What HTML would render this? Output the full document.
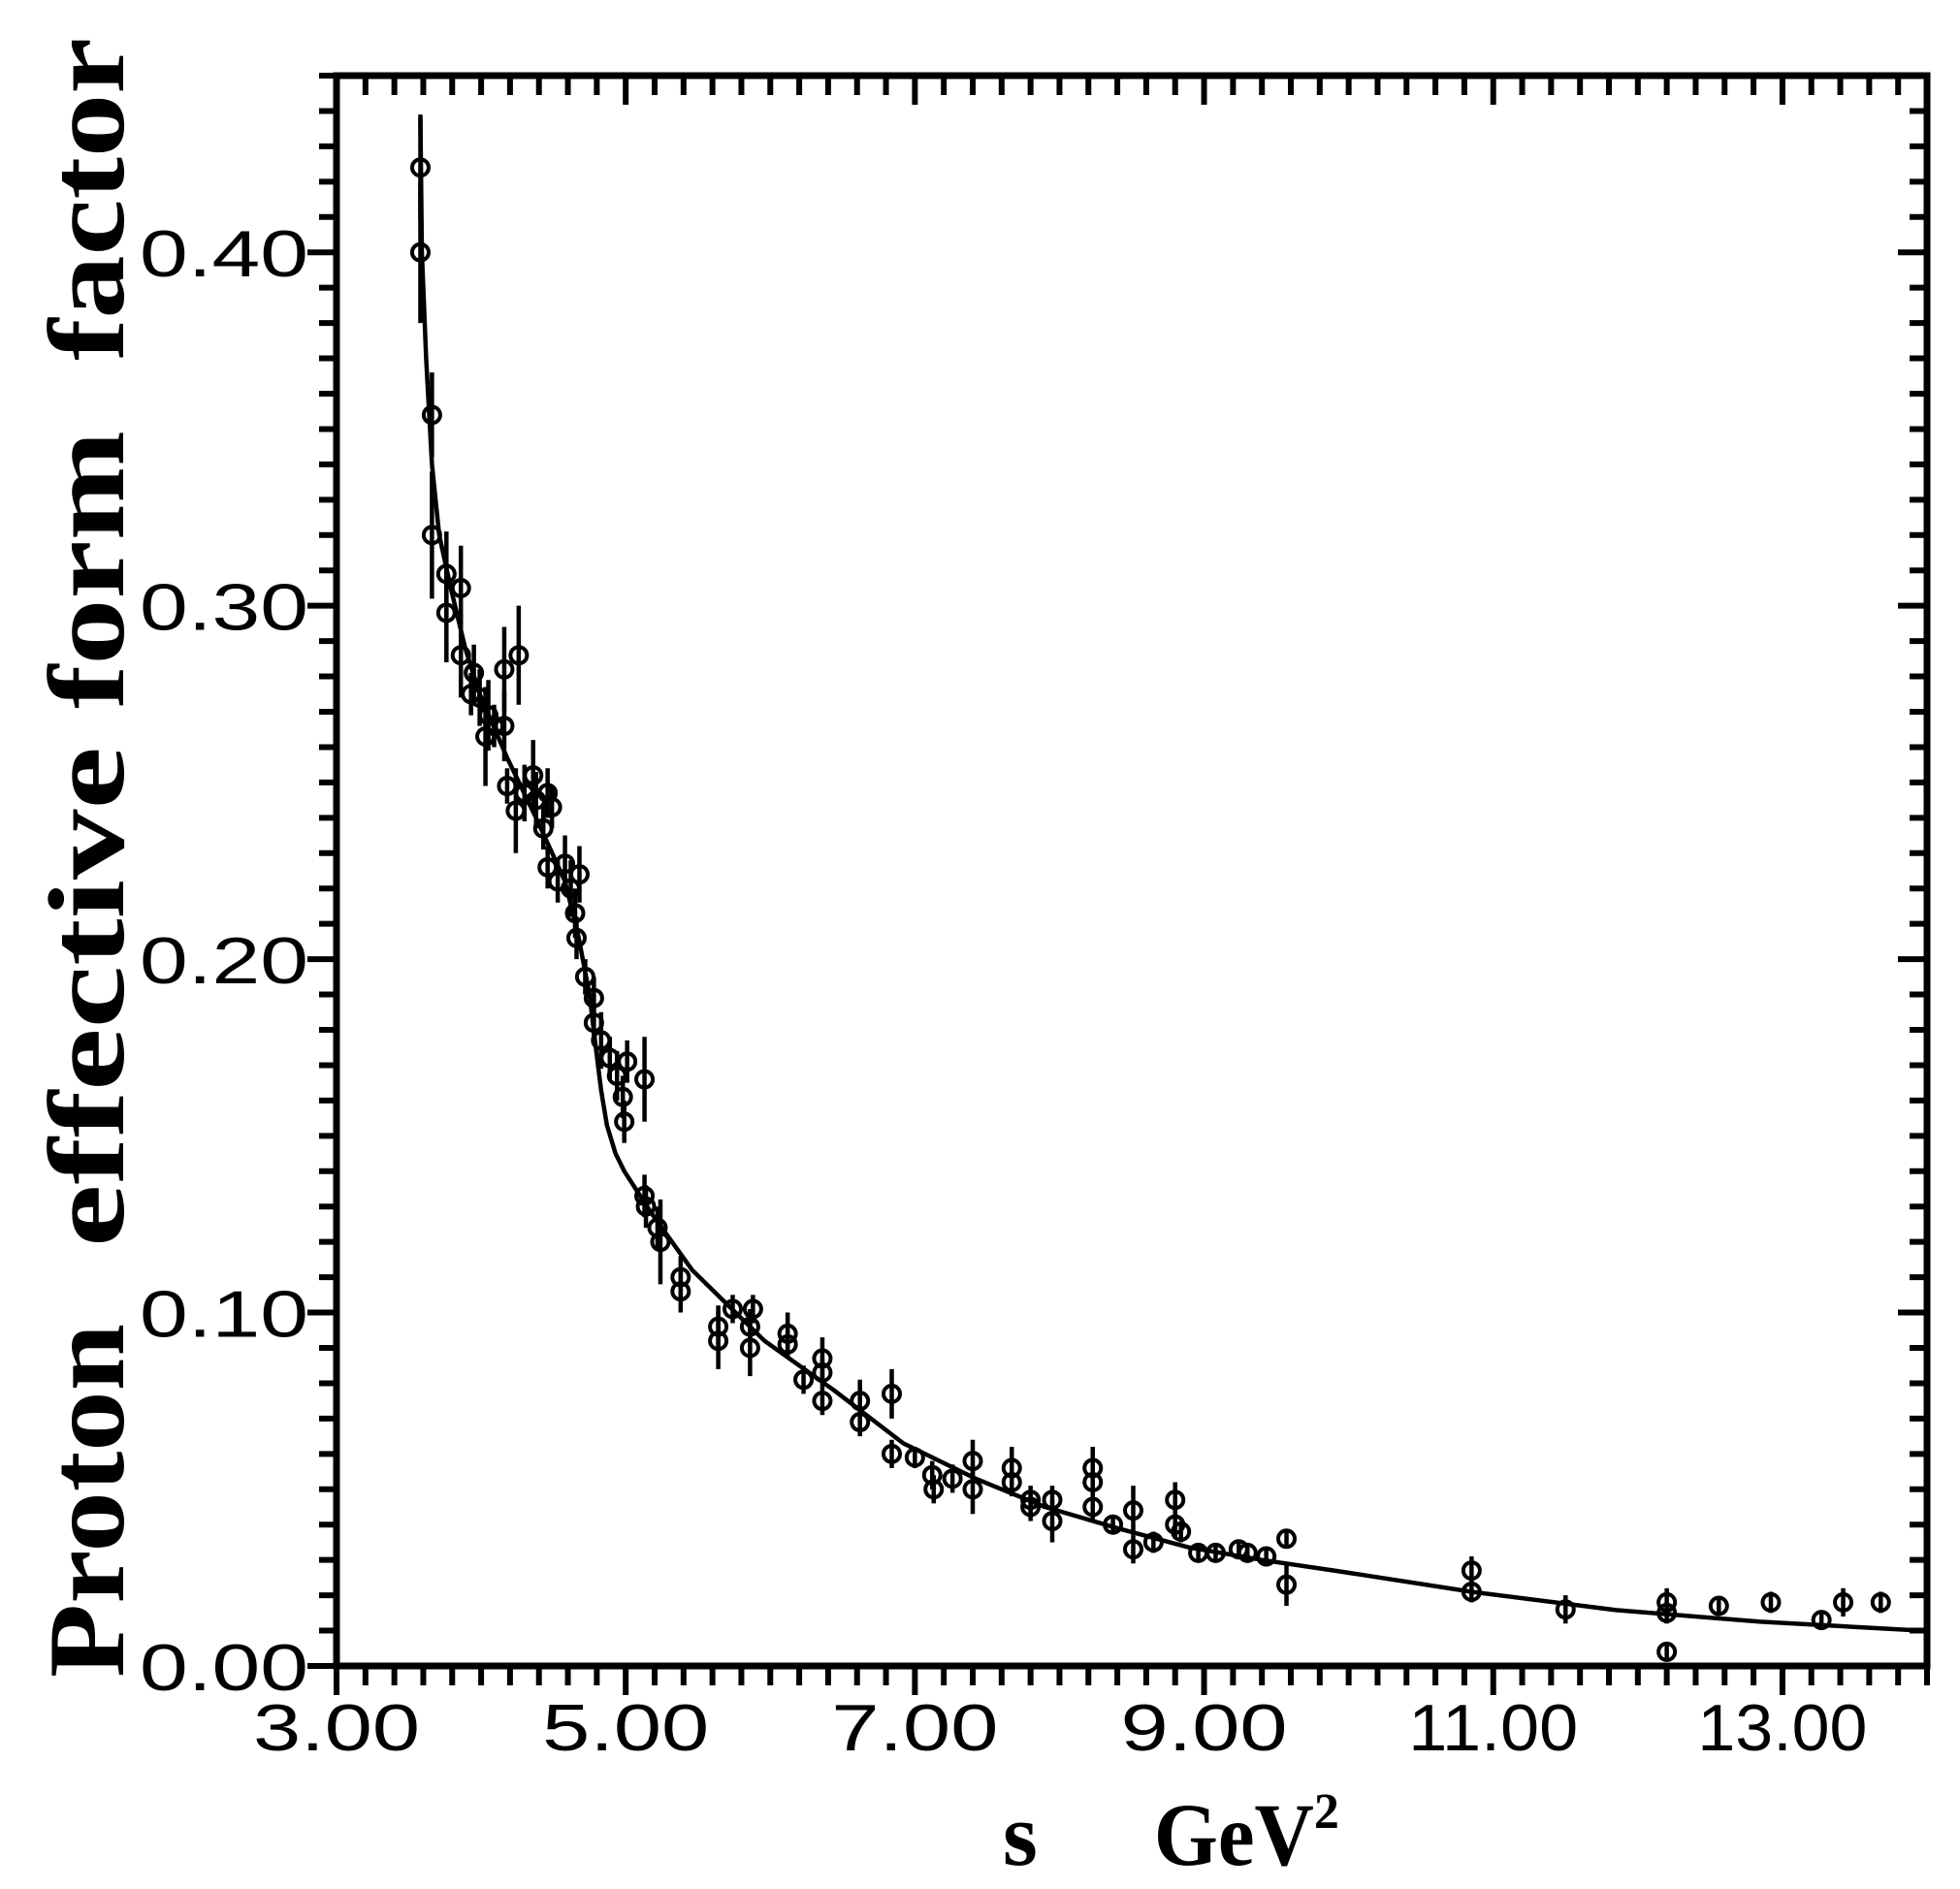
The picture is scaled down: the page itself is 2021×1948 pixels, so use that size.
<!DOCTYPE html>
<html><head><meta charset="utf-8"><style>
html,body{margin:0;padding:0;background:#fff;}
svg{display:block;}
</style></head><body>
<svg id="chart" width="2021" height="1948" viewBox="0 0 2021 1948" xmlns="http://www.w3.org/2000/svg">
<g id="ticks"></g>
<g id="labels" font-family="Liberation Sans, sans-serif" font-size="68" fill="#000"></g>
<g id="curve"></g>
<g id="points"></g>
<rect x="347" y="78" width="1640" height="1640" fill="none" stroke="#000" stroke-width="7"/>
<g font-family="Liberation Serif, serif" font-weight="bold" font-size="112">
<text transform="translate(127,1730) rotate(-90)" textLength="365" lengthAdjust="spacingAndGlyphs">Proton</text>
<text transform="translate(127,1286) rotate(-90)" textLength="516" lengthAdjust="spacingAndGlyphs">effective</text>
<text transform="translate(127,731) rotate(-90)" textLength="287" lengthAdjust="spacingAndGlyphs">form</text>
<text transform="translate(127,372) rotate(-90)" textLength="333" lengthAdjust="spacingAndGlyphs">factor</text>
</g>
<text x="1034" y="1923" font-family="Liberation Serif, serif" font-weight="bold" font-size="92" xml:space="preserve">s<tspan dx="120" textLength="165" lengthAdjust="spacingAndGlyphs">GeV</tspan><tspan dy="-38" font-size="52">2</tspan></text>
</svg>
<script>
const xTickLabels = ["3.00","5.00","7.00","9.00","11.00","13.00"];
const yTickLabels = ["0.00","0.10","0.20","0.30","0.40"];
const sVals = [3.58,3.58,3.66,3.66,3.76,3.76,3.86,3.86,3.95,3.93,3.99,4.05,4.03,4.09,4.16,4.16,4.18,4.26,4.24,4.30,4.36,4.38,4.43,4.46,4.49,4.46,4.53,4.58,4.62,4.65,4.66,4.68,4.72,4.78,4.78,4.83,4.89,4.94,4.98,5.01,4.99,5.13,5.13,5.14,5.22,5.24,5.38,5.38,5.64,5.64,5.74,5.88,5.86,5.86,6.12,6.12,6.23,6.36,6.36,6.36,6.62,6.62,6.84,6.84,7.00,7.12,7.13,7.26,7.40,7.40,7.67,7.67,7.80,7.80,7.95,7.95,8.23,8.23,8.23,8.37,8.51,8.51,8.65,8.80,8.80,8.84,8.96,9.08,9.24,9.30,9.43,9.57,9.57,10.85,10.85,11.50,12.20,12.20,12.20,12.56,12.92,13.27,13.42,13.68];
const gVals = [0.424,0.400,0.354,0.320,0.309,0.298,0.305,0.286,0.281,0.275,0.274,0.269,0.263,0.266,0.282,0.266,0.249,0.286,0.242,0.247,0.252,0.245,0.237,0.247,0.243,0.226,0.222,0.227,0.220,0.213,0.206,0.224,0.195,0.189,0.182,0.177,0.172,0.167,0.161,0.171,0.154,0.166,0.133,0.130,0.124,0.120,0.110,0.106,0.096,0.092,0.101,0.101,0.096,0.090,0.094,0.091,0.081,0.087,0.083,0.075,0.075,0.069,0.077,0.060,0.059,0.054,0.050,0.053,0.058,0.050,0.056,0.052,0.047,0.045,0.047,0.041,0.056,0.052,0.045,0.040,0.044,0.033,0.035,0.047,0.040,0.038,0.032,0.032,0.033,0.032,0.031,0.036,0.023,0.027,0.021,0.016,0.018,0.015,0.004,0.017,0.018,0.013,0.018,0.018];
const gErr = [0.015,0.02,0.012,0.018,0.012,0.014,0.012,0.012,0.008,0.006,0.008,0.01,0.014,0.006,0.012,0.01,0.005,0.014,0.012,0.008,0.01,0.008,0.006,0.007,0.006,0.006,0.006,0.008,0.008,0.007,0.006,0.008,0.005,0.006,0.006,0.008,0.006,0.007,0.006,0.006,0.006,0.012,0.006,0.006,0.006,0.012,0.006,0.006,0.006,0.008,0.004,0.004,0.005,0.008,0.006,0.004,0.004,0.006,0.004,0.004,0.006,0.004,0.007,0.004,0.003,0.004,0.004,0.004,0.006,0.007,0.006,0.004,0.004,0.004,0.004,0.006,0.006,0.004,0.004,0.002,0.007,0.004,0.003,0.005,0.004,0.003,0.002,0.002,0.002,0.002,0.002,0.002,0.006,0.004,0.003,0.004,0.004,0.003,0.002,0.002,0.003,0.002,0.004,0.003];
const fitS = [3.58,3.59,3.62,3.66,3.71,3.79,3.89,3.99,4.18,4.38,4.58,4.67,4.75,4.79,4.83,4.87,4.93,4.99,5.18,5.46,5.76,5.96,6.44,6.92,7.42,7.90,8.40,8.90,9.40,9.90,10.85,11.85,12.85,14.0];
const fitG = [0.438,0.40,0.37,0.34,0.32,0.305,0.288,0.275,0.257,0.240,0.222,0.207,0.190,0.176,0.163,0.153,0.145,0.140,0.128,0.112,0.100,0.092,0.078,0.063,0.053,0.045,0.039,0.0335,0.030,0.027,0.021,0.0158,0.0125,0.0099];

const NS = "http://www.w3.org/2000/svg";
const X0 = 347, X1 = 1987, Y0 = 1718, Y1 = 78;
const xMin = 3, xMax = 14, yMin = 0, yMax = 0.45;
const sx = v => X0 + (v - xMin) / (xMax - xMin) * (X1 - X0);
const sy = v => Y0 - (v - yMin) / (yMax - yMin) * (Y0 - Y1);
function mk(tag, attrs, parent) {
  const e = document.createElementNS(NS, tag);
  for (const k in attrs) e.setAttribute(k, attrs[k]);
  parent.appendChild(e);
  return e;
}
const tg = document.getElementById('ticks');
const lg = document.getElementById('labels');
for (let i = 0; i <= 55; i++) {
  const v = 3 + i * 0.2;
  if (v > 14.001) break;
  const x = sx(v);
  const major = (i % 10 === 0);
  const b = mk('line', {x1: x, x2: x, y1: Y0, y2: Y0 + (major ? 30 : 20), stroke: '#000', 'stroke-width': 6}, tg);
  
  
  const t = mk('line', {x1: x, x2: x, y1: Y1, y2: Y1 + (major ? 30 : 20), stroke: '#000', 'stroke-width': 6}, tg);
  
  
}
xTickLabels.forEach(s => {
  const v = parseFloat(s);
  const t = mk('text', {x: sx(v), y: 1805, 'text-anchor': 'middle', textLength: s.length > 4 ? 175 : 172, lengthAdjust: 'spacingAndGlyphs'}, lg);
  t.textContent = s;
  
  
});
for (let i = 0; i <= 45; i++) {
  const v = i * 0.01;
  const y = sy(v);
  const major = (i % 10 === 0);
  const l = mk('line', {x1: X0 - (major ? 30 : 18), x2: X0, y1: y, y2: y, stroke: '#000', 'stroke-width': 6}, tg);
  
  
  const r = mk('line', {x1: X1 - (major ? 30 : 18), x2: X1, y1: y, y2: y, stroke: '#000', 'stroke-width': 6}, tg);
  
  
}
yTickLabels.forEach(s => {
  const v = parseFloat(s);
  const t = mk('text', {x: 144, y: sy(v) + 25, textLength: 174, lengthAdjust: 'spacingAndGlyphs'}, lg);
  t.textContent = s;
  
  
});
const cg = document.getElementById('curve');
let d = '';
fitS.forEach((s, i) => { d += (i ? 'L' : 'M') + sx(s).toFixed(1) + ',' + sy(fitG[i]).toFixed(1); });
const path = mk('path', {d: d, fill: 'none', stroke: '#000', 'stroke-width': 4.5, 'stroke-linejoin': 'round'}, cg);


const pg = document.getElementById('points');
sVals.forEach((s, i) => {
  const x = sx(s), y = sy(gVals[i]), e = gErr[i];
  const eb = mk('line', {x1: x, x2: x, y1: sy(gVals[i] + e), y2: sy(gVals[i] - e), stroke: '#000', 'stroke-width': 4.5}, pg);
  
  
  const c = mk('circle', {cx: x, cy: y, r: 8.5, fill: 'none', stroke: '#000', 'stroke-width': 4}, pg);
  
  
});
</script>
</body></html>
